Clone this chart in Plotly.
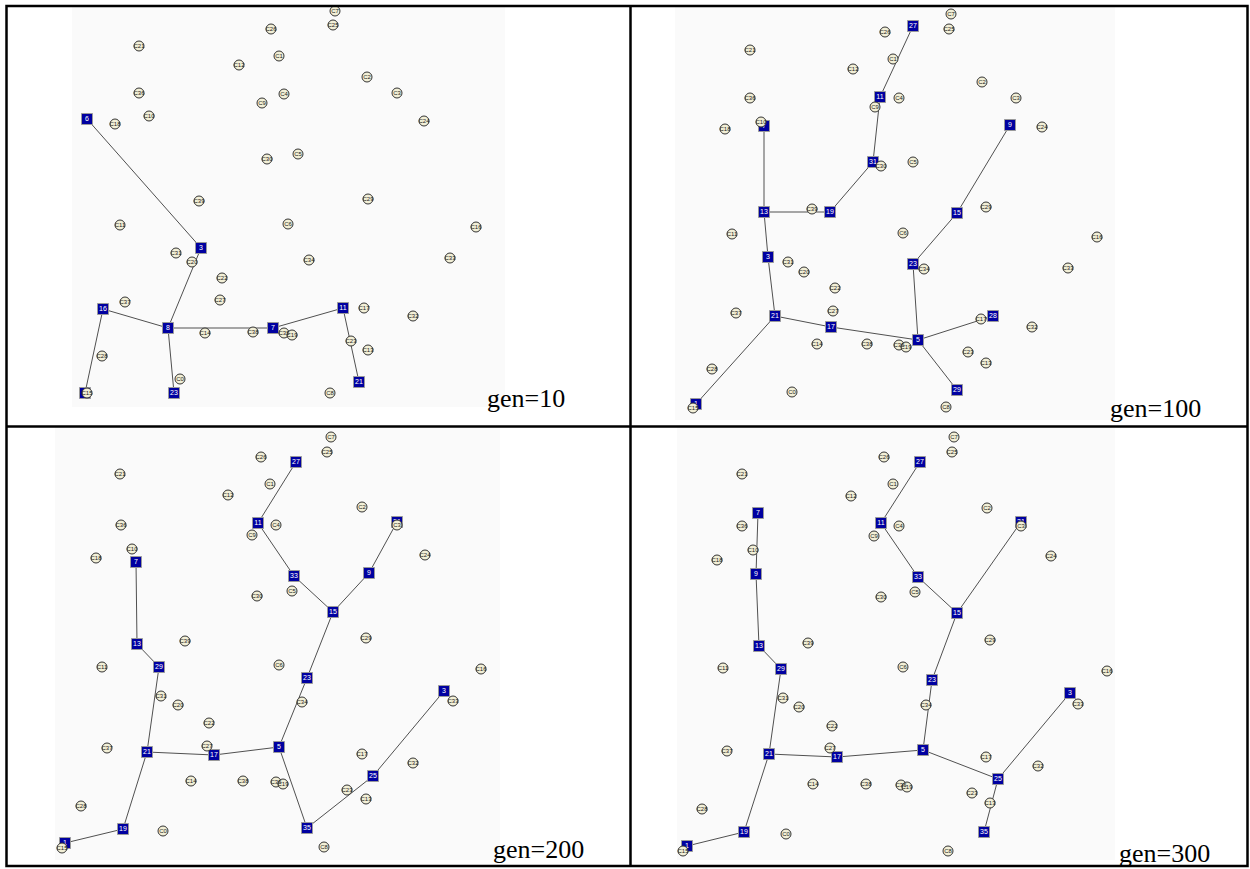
import plotly.graph_objects as go

# ---------------- data ----------------
customer_names = ["C7", "C25", "C26", "C21", "C1", "C12", "C4", "C36", "C9", "C10",
                  "C18", "C30", "C5", "C39", "C2", "C3", "C24", "C29", "C16", "C33",
                  "C11", "C6", "C31", "C20", "C34", "C22", "C27", "C37", "C14", "C38",
                  "C35", "C19", "C28", "C0", "C15", "C8", "C17", "C32", "C23", "C13"]

gen10_cust_x = [328, 326, 264, 132, 272, 232, 277, 132, 255, 142, 108, 260, 291, 192, 360, 390, 417, 361, 469, 443,
                113, 281, 169, 185, 302, 215, 213, 118, 198, 246, 277, 285, 95, 173, 80, 323, 357, 406, 344, 361]
gen10_cust_y = [4, 18, 22, 39, 49, 58, 87, 86, 96, 109, 117, 152, 147, 194, 70, 86, 114, 192, 220, 251,
                218, 217, 246, 255, 253, 271, 293, 295, 326, 325, 326, 328, 349, 372, 386, 386, 301, 309, 334, 343]

gen100_cust_x = [320, 318, 254, 119, 262, 222, 268, 119, 244, 130, 94, 250, 282, 181, 351, 385, 411, 355, 466, 437,
                 101, 272, 157, 173, 293, 204, 202, 105, 186, 236, 268, 275, 81, 161, 62, 315, 350, 401, 337, 355]
gen100_cust_y = [7, 22, 25, 43, 52, 62, 91, 91, 100, 115, 122, 159, 155, 202, 75, 91, 120, 200, 230, 261,
                 227, 226, 255, 265, 262, 281, 304, 306, 337, 337, 338, 340, 362, 385, 401, 400, 312, 320, 345, 356]

gen200_cust_x = [324, 320, 254, 113, 263, 221, 269, 114, 245, 125, 89, 250, 285, 178, 355, 390, 418, 359, 474, 446,
                 95, 272, 154, 171, 295, 202, 200, 100, 184, 236, 269, 276, 74, 156, 55, 317, 355, 406, 340, 359]
gen200_cust_y = [10, 25, 30, 47, 57, 68, 98, 98, 108, 122, 131, 169, 164, 214, 80, 98, 128, 211, 242, 274,
                 240, 238, 269, 278, 275, 296, 319, 321, 354, 354, 355, 357, 379, 404, 421, 420, 327, 336, 363, 372]

gen300_cust_x = [323, 321, 253, 111, 262, 220, 268, 111, 243, 122, 86, 250, 284, 177, 356, 390, 420, 359, 476, 447,
                 92, 272, 152, 168, 295, 201, 199, 96, 182, 235, 270, 276, 71, 155, 52, 317, 355, 407, 341, 359]
gen300_cust_y = [10, 25, 30, 47, 57, 69, 99, 99, 109, 123, 133, 170, 165, 216, 81, 99, 129, 213, 244, 277,
                 241, 240, 271, 280, 278, 299, 321, 324, 357, 357, 358, 360, 382, 407, 424, 424, 330, 339, 366, 376]

gen10_fac_names = ["6", "3", "16", "8", "7", "23", "1", "11", "21"]
gen10_fac_x = [80, 194, 96, 161, 266, 167, 78, 336, 352]
gen10_fac_y = [112, 241, 302, 321, 321, 386, 386, 301, 375]
gen10_edges = [("6", "3"), ("3", "8"), ("8", "16"), ("16", "1"), ("8", "23"), ("8", "7"), ("7", "11"), ("11", "21")]

gen100_fac_names = ["27", "11", "7", "31", "13", "19", "9", "15", "3", "23", "21", "17", "5", "28", "29", "1"]
gen100_fac_x = [282, 249, 133, 242, 133, 199, 379, 326, 137, 282, 144, 200, 287, 362, 326, 65]
gen100_fac_y = [19, 90, 119, 155, 205, 205, 118, 206, 250, 257, 309, 320, 333, 309, 383, 397]
gen100_edges = [("27", "11"), ("11", "31"), ("31", "19"), ("19", "13"), ("13", "7"), ("9", "15"), ("15", "23"),
                ("23", "5"), ("5", "28"), ("5", "29"), ("5", "17"), ("17", "21"), ("21", "3"), ("3", "13"), ("21", "1")]

gen200_fac_names = ["27", "11", "7", "33", "15", "9", "31", "13", "29", "23", "21", "17", "5", "19", "35", "1", "25", "3"]
gen200_fac_x = [289, 251, 129, 287, 326, 362, 390, 130, 152, 300, 140, 207, 272, 116, 300, 58, 366, 437]
gen200_fac_y = [35, 96, 135, 149, 185, 146, 95, 217, 240, 251, 325, 328, 320, 402, 401, 416, 349, 264]
gen200_edges = [("27", "11"), ("11", "33"), ("33", "15"), ("15", "9"), ("9", "31"), ("15", "23"), ("23", "5"),
                ("5", "17"), ("17", "21"), ("21", "29"), ("29", "13"), ("13", "7"), ("21", "19"), ("19", "1"),
                ("5", "35"), ("35", "25"), ("25", "3")]

gen300_fac_names = ["27", "7", "11", "9", "33", "31", "15", "13", "29", "23", "3", "21", "17", "5", "25", "19", "35", "1"]
gen300_fac_x = [289, 127, 250, 125, 287, 390, 326, 128, 150, 301, 439, 138, 206, 292, 367, 113, 353, 56]
gen300_fac_y = [35, 86, 96, 147, 150, 95, 186, 219, 242, 253, 266, 327, 330, 323, 352, 405, 405, 419]
gen300_edges = [("27", "11"), ("11", "33"), ("33", "15"), ("15", "31"), ("15", "23"), ("23", "5"), ("5", "17"),
                ("17", "21"), ("21", "29"), ("29", "13"), ("13", "9"), ("9", "7"), ("21", "19"), ("19", "1"),
                ("5", "25"), ("25", "3"), ("25", "35")]

panel_titles = ["gen=10", "gen=100", "gen=200", "gen=300"]

# ---------------- layout helpers ----------------
W, H = 1250, 869
col_px = [(7, 630), (631, 1247)]
row_px = [(7, 426), (427, 865)]

panels = [
    dict(col=0, row=0, cx=gen10_cust_x, cy=gen10_cust_y, fn=gen10_fac_names, fx=gen10_fac_x, fy=gen10_fac_y,
         edges=gen10_edges, title=panel_titles[0], tpos=(478, 392), bg=(65, 0, 498, 400)),
    dict(col=1, row=0, cx=gen100_cust_x, cy=gen100_cust_y, fn=gen100_fac_names, fx=gen100_fac_x, fy=gen100_fac_y,
         edges=gen100_edges, title=panel_titles[1], tpos=(477, 402), bg=(44, 0, 484, 413)),
    dict(col=0, row=1, cx=gen200_cust_x, cy=gen200_cust_y, fn=gen200_fac_names, fx=gen200_fac_x, fy=gen200_fac_y,
         edges=gen200_edges, title=panel_titles[2], tpos=(484, 422), bg=(48, 0, 493, 433)),
    dict(col=1, row=1, cx=gen300_cust_x, cy=gen300_cust_y, fn=gen300_fac_names, fx=gen300_fac_x, fy=gen300_fac_y,
         edges=gen300_edges, title=panel_titles[3], tpos=(486, 426), bg=(46, 0, 484, 433)),
]

fig = go.Figure()
layout_axes = {}
shapes = []
annotations = []

for i, p in enumerate(panels):
    n = i + 1
    xs = "" if n == 1 else str(n)
    xa, ya = "x" + xs, "y" + xs
    c0, c1 = col_px[p["col"]]
    r0, r1 = row_px[p["row"]]
    layout_axes["xaxis" + xs] = dict(domain=[c0 / W, c1 / W], range=[0, c1 - c0], visible=False,
                                     fixedrange=True, anchor=ya)
    layout_axes["yaxis" + xs] = dict(domain=[1 - r1 / H, 1 - r0 / H], range=[r1 - r0, 0], visible=False,
                                     fixedrange=True, anchor=xa)

    # faint picture background
    bx0, by0, bx1, by1 = p["bg"]
    shapes.append(dict(type="rect", xref=xa, yref=ya, x0=bx0, y0=by0, x1=bx1, y1=by1,
                       fillcolor="#fafafa", line=dict(width=0), layer="below"))

    pos = {name: (x, y) for name, x, y in zip(p["fn"], p["fx"], p["fy"])}
    ex, ey = [], []
    for a, b in p["edges"]:
        ex += [pos[a][0], pos[b][0], None]
        ey += [pos[a][1], pos[b][1], None]
    fig.add_trace(go.Scatter(x=ex, y=ey, mode="lines", line=dict(color="#505050", width=1),
                             xaxis=xa, yaxis=ya, hoverinfo="skip", showlegend=False))
    fig.add_trace(go.Scatter(x=p["fx"], y=p["fy"], mode="markers+text", text=p["fn"],
                             textfont=dict(color="white", size=7, family="Arial"),
                             textposition="middle center",
                             marker=dict(symbol="square", size=11, color="#0000a0",
                                         line=dict(color="#9a9a9a", width=1)),
                             xaxis=xa, yaxis=ya, showlegend=False))
    fig.add_trace(go.Scatter(x=p["cx"], y=p["cy"], mode="markers+text", text=customer_names,
                             textfont=dict(color="#222222", size=6, family="Arial"),
                             textposition="middle center",
                             marker=dict(symbol="circle", size=10, color="#f2efd6",
                                         line=dict(color="#333333", width=1)),
                             xaxis=xa, yaxis=ya, showlegend=False))
    annotations.append(dict(xref=xa, yref=ya, x=p["tpos"][0], y=p["tpos"][1], text=p["title"],
                            showarrow=False, xanchor="left", yanchor="middle",
                            font=dict(family="Liberation Serif", size=26, color="black")))

# frame lines
def px(x):
    return x / W

def py(y):
    return 1 - y / H

shapes.append(dict(type="rect", xref="paper", yref="paper", x0=px(6.5), x1=px(1247.5), y0=py(6), y1=py(866),
                   line=dict(color="black", width=2.5), layer="above"))
shapes.append(dict(type="line", xref="paper", yref="paper", x0=px(630.5), x1=px(630.5), y0=py(6), y1=py(866),
                   line=dict(color="black", width=2.5), layer="above"))
shapes.append(dict(type="line", xref="paper", yref="paper", x0=px(6.5), x1=px(1247.5), y0=py(426.5), y1=py(426.5),
                   line=dict(color="black", width=2.5), layer="above"))

fig.update_layout(width=W, height=H, margin=dict(l=0, r=0, t=0, b=0),
                  paper_bgcolor="white", plot_bgcolor="white",
                  shapes=shapes, annotations=annotations, **layout_axes)

fig.write_html("out.html", config={"displayModeBar": False},
               post_script="document.body.style.margin='0';document.body.style.padding='0';"
                           "document.body.style.overflow='hidden';")
